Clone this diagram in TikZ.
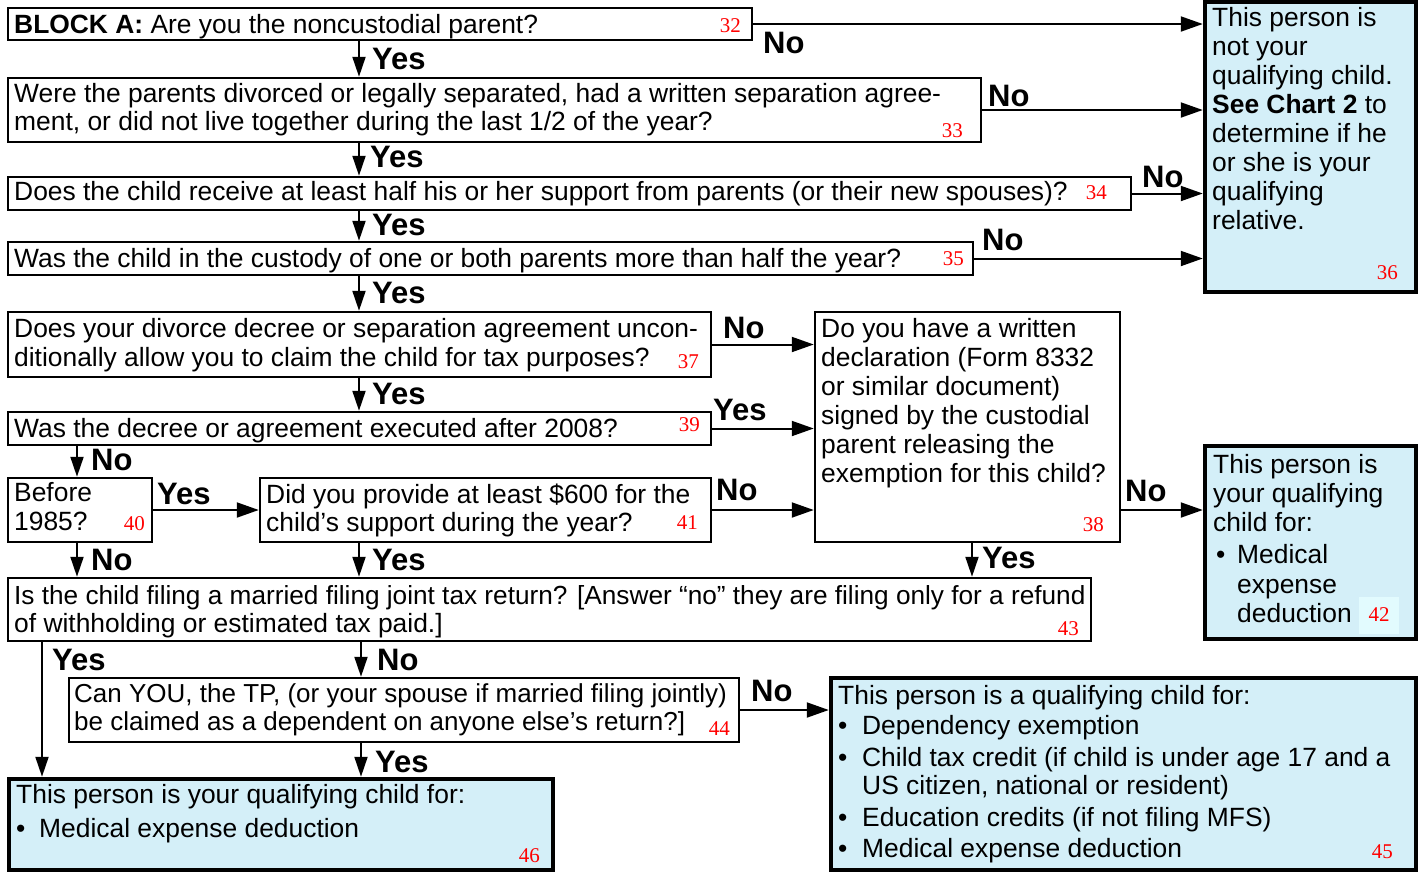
\documentclass[tikz,border=0pt]{standalone}
\usepackage{fontspec}
\setmainfont{Liberation Sans}
\newfontfamily\numfont{Liberation Serif}
\usetikzlibrary{arrows.meta}
\definecolor{qblue}{RGB}{212,239,248}
\definecolor{numbg}{RGB}{226,251,254}
\begin{document}
\begin{tikzpicture}[x=1pt,y=-1pt,
  qbox/.style={draw, line width=2.5pt, inner sep=0pt, fill=white},
  rbox/.style={draw, line width=4.5pt, inner sep=0pt, fill=qblue},
  txt/.style={inner sep=0pt, anchor=base west, font=\fontsize{26.4}{29}\selectfont},
  num/.style={inner sep=0pt, anchor=base east, text=red, font=\numfont\fontsize{21}{21}\selectfont},
  lab/.style={inner sep=0pt, anchor=base west, font=\bfseries\fontsize{31}{31}\selectfont},
  arr/.style={draw, line width=2pt, -{Triangle[length=22pt,width=15pt]}},
  darr/.style={draw, line width=2pt, -{Triangle[length=20pt,width=13pt]}}]
\useasboundingbox (0,0) rectangle (1419,873);

% ---------- boxes ----------
\node[qbox, minimum width=744pt, minimum height=32pt] (b32) at (380,24) {};
\node[qbox, minimum width=973pt, minimum height=64pt] (b33) at (494.5,110) {};
\node[qbox, minimum width=1123pt, minimum height=33pt] (b34) at (569.5,193.5) {};
\node[qbox, minimum width=965pt, minimum height=33pt] (b35) at (490.5,258.5) {};
\node[rbox, minimum width=211pt, minimum height=290pt] (b36) at (1310.5,147) {};
\node[qbox, minimum width=703pt, minimum height=65pt] (b37) at (359.5,344.5) {};
\node[qbox, minimum width=703pt, minimum height=33pt] (b39) at (359.5,428.5) {};
\node[qbox, minimum width=144pt, minimum height=64pt] (b40) at (80,510) {};
\node[qbox, minimum width=451pt, minimum height=64pt] (b41) at (485.5,510) {};
\node[qbox, minimum width=305pt, minimum height=230pt] (b38) at (967.5,427) {};
\node[qbox, minimum width=1083pt, minimum height=63pt] (b43) at (549.5,609.5) {};
\node[rbox, minimum width=211pt, minimum height=193pt] (b42) at (1310.5,542.5) {};
\node[qbox, minimum width=670pt, minimum height=64pt] (b44) at (404,710) {};
\node[rbox, minimum width=544pt, minimum height=91pt] (b46) at (281,824.5) {};
\node[rbox, minimum width=585pt, minimum height=192pt] (b45) at (1123.5,774) {};

% ---------- texts ----------
\node[txt] (t32) at (14,33) {\textbf{BLOCK A:} Are you the noncustodial parent?};
\node[num] (n32) at (741,32) {32};

\node[txt] (t33a) at (14,102) {Were the parents divorced or legally separated, had a written separation agree-};
\node[txt] (t33b) at (14,130) {ment, or did not live together during the last 1/2 of the year?};
\node[num] (n33) at (963,137) {33};

\node[txt] (t34) at (14,200) {Does the child receive at least half his or her support from parents (or their new spouses)?};
\node[num] (n34) at (1107,199) {34};

\node[txt] (t35) at (14,267) {Was the child in the custody of one or both parents more than half the year?};
\node[num] (n35) at (964,265) {35};

\node[txt] (t36a) at (1212,26) {This person is};
\node[txt] (t36b) at (1212,55) {not your};
\node[txt] (t36c) at (1212,84) {qualifying child.};
\node[txt] (t36d) at (1212,113) {\textbf{See Chart 2} to};
\node[txt] (t36e) at (1212,142) {determine if he};
\node[txt] (t36f) at (1212,171) {or she is your};
\node[txt] (t36g) at (1212,200) {qualifying};
\node[txt] (t36h) at (1212,229) {relative.};
\node[num] (n36) at (1398,279) {36};

\node[txt] (t37a) at (14,337) {Does your divorce decree or separation agreement uncon-};
\node[txt] (t37b) at (14,366) {ditionally allow you to claim the child for tax purposes?};
\node[num] (n37) at (699,368) {37};

\node[txt] (t39) at (14,437) {Was the decree or agreement executed after 2008?};
\node[num] (n39) at (700,431) {39};

\node[txt] (t40a) at (14,501) {Before};
\node[txt] (t40b) at (14,530) {1985?};
\node[num] (n40) at (145,530) {40};

\node[txt] (t41a) at (266,503) {Did you provide at least \$600 for the};
\node[txt] (t41b) at (266,531) {child’s support during the year?};
\node[num] (n41) at (698,529) {41};

\node[txt] (t38a) at (821,337) {Do you have a written};
\node[txt] (t38b) at (821,366) {declaration (Form 8332};
\node[txt] (t38c) at (821,395) {or similar document)};
\node[txt] (t38d) at (821,424) {signed by the custodial};
\node[txt] (t38e) at (821,453) {parent releasing the};
\node[txt] (t38f) at (821,482) {exemption for this child?};
\node[num] (n38) at (1104,531) {38};

\node[txt] (t42a) at (1213,473) {This person is};
\node[txt] (t42b) at (1213,502) {your qualifying};
\node[txt] (t42c) at (1213,531) {child for:};
\node[txt] (t42d) at (1216,563) {\makebox[21pt][l]{•}Medical};
\node[txt] (t42e) at (1237,593) {expense};
\node[txt] (t42f) at (1237,622) {deduction};
\node[num, fill=numbg, inner sep=0pt, minimum width=40pt, minimum height=37pt, anchor=center] (n42) at (1379,615) {42};

\node[txt, font=\fontsize{26.2}{29}\selectfont] (t43a) at (14,604) {Is the child filing a married filing joint tax return? [Answer “no” they are filing only for a refund};
\node[txt] (t43b) at (14,632) {of withholding or estimated tax paid.]};
\node[num] (n43) at (1079,635) {43};

\node[txt, font=\fontsize{26.0}{29}\selectfont] (t44a) at (74,702) {Can YOU, the TP, (or your spouse if married filing jointly)};
\node[txt, font=\fontsize{26.0}{29}\selectfont] (t44b) at (74,730) {be claimed as a dependent on anyone else’s return?]};
\node[num] (n44) at (730,735) {44};

\node[txt] (t46a) at (16,803) {This person is your qualifying child for:};
\node[txt] (t46b) at (16,837) {\makebox[23pt][l]{•}Medical expense deduction};
\node[num] (n46) at (540,862) {46};

\node[txt] (t45a) at (838,704) {This person is a qualifying child for:};
\node[txt] (t45b) at (838,734) {\makebox[24pt][l]{•}Dependency exemption};
\node[txt] (t45c) at (838,766) {\makebox[24pt][l]{•}Child tax credit (if child is under age 17 and a};
\node[txt] (t45d) at (862,794) {US citizen, national or resident)};
\node[txt] (t45e) at (838,826) {\makebox[24pt][l]{•}Education credits (if not filing MFS)};
\node[txt] (t45f) at (838,857) {\makebox[24pt][l]{•}Medical expense deduction};
\node[num] (n45) at (1393,858) {45};

% ---------- column coordinates ----------
\coordinate (c359) at (359,0);
\coordinate (c361) at (361,0);
\coordinate (c77) at (77,0);
\coordinate (c972) at (972,0);
\coordinate (c42) at (42,0);

% ---------- connectors ----------
\draw[arr] (b32.east) -- (b32.east -| b36.west);
\node[lab] (l1) at (763,53) {No};
\draw[darr] (c359 |- b32.south) -- (c359 |- b33.north);
\node[lab] (l2) at (372,69) {Yes};

\draw[arr] (b33.east) -- (b33.east -| b36.west);
\node[lab] (l3) at (988,106) {No};
\draw[darr] (c359 |- b33.south) -- (c359 |- b34.north);
\node[lab] (l4) at (370,167) {Yes};

\draw[arr] (b34.east) -- (b34.east -| b36.west);
\node[lab] (l5) at (1142,187) {No};
\draw[darr] (c359 |- b34.south) -- (c359 |- b35.north);
\node[lab] (l6) at (372,235) {Yes};

\draw[arr] (b35.east) -- (b35.east -| b36.west);
\node[lab] (l7) at (982,250) {No};
\draw[darr] (c359 |- b35.south) -- (c359 |- b37.north);
\node[lab] (l8) at (372,303) {Yes};

\draw[arr] (b37.east) -- (b37.east -| b38.west);
\node[lab] (l9) at (723,338) {No};
\draw[darr] (c359 |- b37.south) -- (c359 |- b39.north);
\node[lab] (l10) at (372,404) {Yes};

\draw[arr] (b39.east) -- (b39.east -| b38.west);
\node[lab] (l11) at (713,420) {Yes};
\draw[darr] (c77 |- b39.south) -- (c77 |- b40.north);
\node[lab] (l12) at (91,470) {No};

\draw[arr] (b40.east) -- (b41.west);
\node[lab] (l13) at (157,504) {Yes};
\draw[darr] (c77 |- b40.south) -- (c77 |- b43.north);
\node[lab] (l14) at (91,570) {No};

\draw[arr] (b41.east) -- (b41.east -| b38.west);
\node[lab] (l15) at (716,500) {No};
\draw[darr] (c359 |- b41.south) -- (c359 |- b43.north);
\node[lab] (l16) at (372,570) {Yes};

\draw[arr] (b38.east |- b41.east) -- (b42.west |- b41.east);
\node[lab] (l17) at (1125,501) {No};
\draw[darr] (c972 |- b38.south) -- (c972 |- b43.north);
\node[lab] (l18) at (982,568) {Yes};

\draw[darr] (c42 |- b43.south) -- (c42 |- b46.north);
\node[lab] (l19) at (52,670) {Yes};
\draw[darr] (c361 |- b43.south) -- (c361 |- b44.north);
\node[lab] (l20) at (377,670) {No};

\draw[arr] (b44.east) -- (b44.east -| b45.west);
\node[lab] (l21) at (751,701) {No};
\draw[darr] (c361 |- b44.south) -- (c361 |- b46.north);
\node[lab] (l22) at (375,772) {Yes};
\end{tikzpicture}
\end{document}
